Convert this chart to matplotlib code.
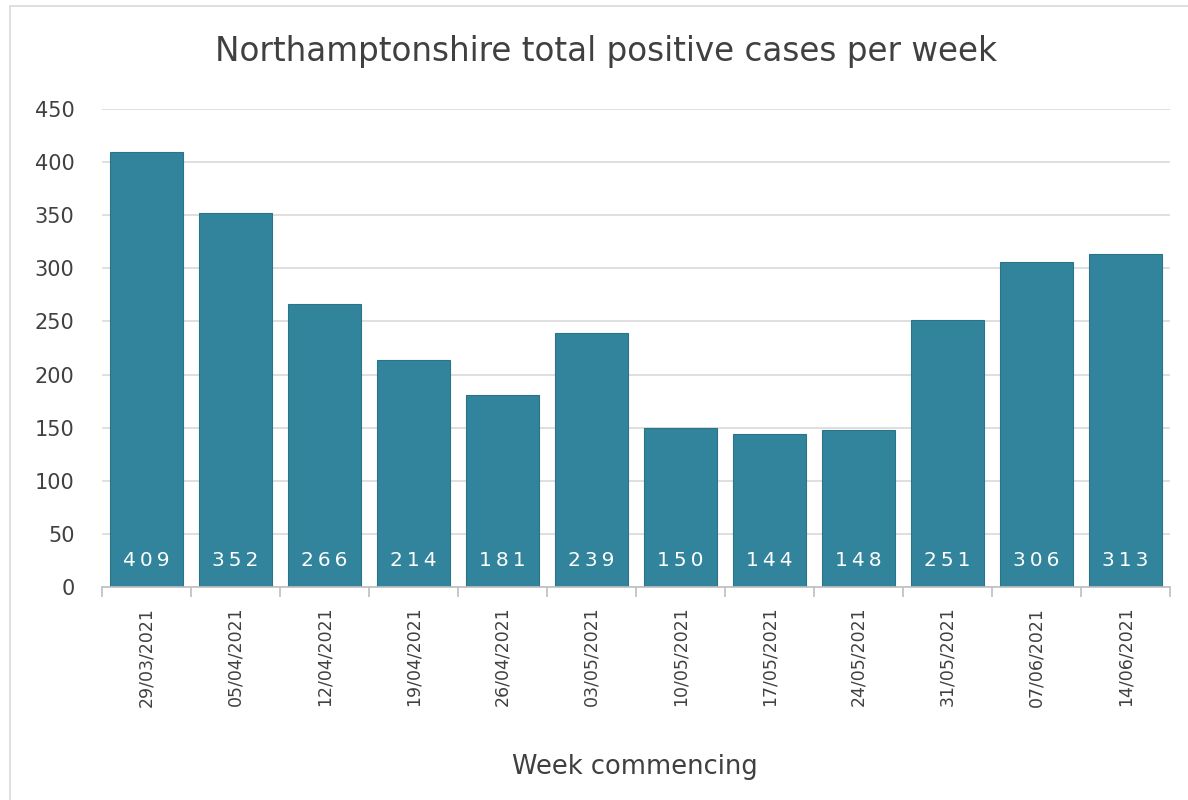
import numpy as np
import matplotlib.pyplot as plt
from matplotlib.patches import Rectangle

weeks = ["29/03/2021", "05/04/2021", "12/04/2021", "19/04/2021", "26/04/2021",
         "03/05/2021", "10/05/2021", "17/05/2021", "24/05/2021", "31/05/2021",
         "07/06/2021", "14/06/2021"]
cases = [409, 352, 266, 214, 181, 239, 150, 144, 148, 251, 306, 313]
y_ticks = [0, 50, 100, 150, 200, 250, 300, 350, 400, 450]

bar_color = "#31849B"
grid_color = "#D9D9D9"
text_color = "#404040"

fig = plt.figure(figsize=(11.88, 8), dpi=100)
ax = fig.add_axes([0.086, 0.266, 0.899, 0.598])

# light chart-area border like the spreadsheet export
fig.patches.append(Rectangle((0.008, -0.01), 1.1, 1.0025, transform=fig.transFigure,
                             fill=False, edgecolor="#D9D9D9", linewidth=1.2))

x = np.arange(len(weeks))
ax.bar(x, cases, width=0.82, color=bar_color, edgecolor="#2A7388", linewidth=0.8, zorder=2)

# value labels sit at the foot of each bar, spaced out like the original
for xi, v in zip(x, cases):
    ax.text(xi, 25, "\u2009".join(str(v)), ha="center", va="center",
            color="white", fontsize=14.5, zorder=3)

ax.set_xlim(-0.5, len(weeks) - 0.5)
ax.set_ylim(0, 450)
ax.set_yticks(y_ticks)
ax.yaxis.grid(True, color=grid_color, linewidth=1.2, zorder=0)
ax.set_axisbelow(True)

ax.set_xticks(x)
ax.set_xticklabels(weeks, rotation=90, fontsize=12.5, color=text_color)
ax.set_xticks(np.arange(-0.5, len(weeks)), minor=True)
ax.tick_params(axis="x", which="major", length=0, pad=14)
ax.tick_params(axis="x", which="minor", length=7, color="#BFBFBF", width=1.2)
ax.tick_params(axis="y", length=0, labelsize=15, labelcolor=text_color, pad=20)

for side in ["top", "right", "left"]:
    ax.spines[side].set_visible(False)
ax.spines["bottom"].set_color("#BFBFBF")
ax.spines["bottom"].set_linewidth(1.2)

fig.text(0.51, 0.936, "Northamptonshire total positive cases per week",
         ha="center", va="center", fontsize=23.5, color=text_color)
fig.text(0.534, 0.041, "Week commencing", ha="center", va="center",
         fontsize=18.5, color=text_color)

fig.savefig("out.png", dpi=100)
